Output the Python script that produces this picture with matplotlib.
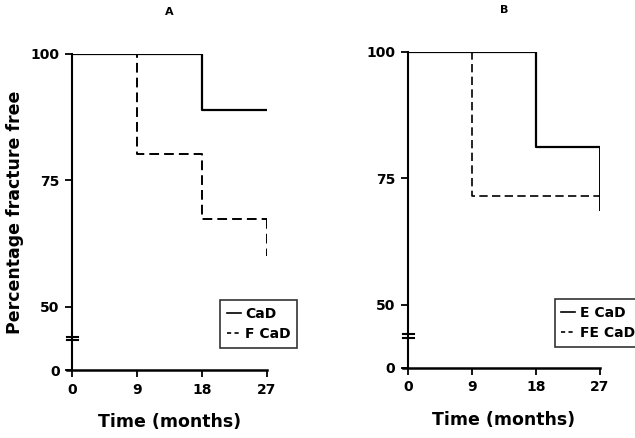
import numpy as np
import matplotlib
matplotlib.use('Agg')
from matplotlib import pyplot as plt
from matplotlib.lines import Line2D

plt.rcParams['font.family'] = ['DejaVu Sans']
plt.rcParams['font.weight'] = 'bold'

# 生存曲線のデータ（時間: 月, 骨折なし割合: %）
time_a = [0, 9, 18, 27]
cad = [100, 100, 88.9, 88.9]
f_cad = [100, 80.2, 67.4, 67.4]
f_cad_end = 60.0

time_b = [0, 9, 18, 27]
e_cad = [100, 100, 81.2, 81.2]
e_cad_end = 68.8
fe_cad = [100, 71.5, 71.5, 71.5]

xticks = [0, 9, 18, 27]
yticks = [0, 50, 75, 100]
panels = ['A', 'B']
labels_a = ['CaD', 'F CaD']
labels_b = ['E CaD', 'FE CaD']


# 0〜50 の間を縮めた縦軸（軸の途切れ）
def fwd(y):
    y = np.asarray(y, dtype=float)
    return np.where(y >= 50, y, 37.5 + y * 0.25)


def inv(t):
    t = np.asarray(t, dtype=float)
    return np.where(t >= 50, t, (t - 37.5) * 4)


fig = plt.figure(figsize=(6.35, 4.38), dpi=100)
ax_a = fig.add_axes([0.1134, 0.155, 0.307, 0.722])
ax_b = fig.add_axes([0.6425, 0.160, 0.302, 0.722])

dash = (0, (5, 2.6))
ax_a.step(time_a, cad, where='post', color='black', lw=1.6)
ax_a.step(time_a, f_cad, where='post', color='black', lw=1.4, linestyle=dash)
ax_a.plot([time_a[-1], time_a[-1]], [f_cad[-1], f_cad_end], color='black', lw=1.4, linestyle=dash)

ax_b.step(time_b, e_cad, where='post', color='black', lw=1.6)
ax_b.plot([time_b[-1], time_b[-1]], [e_cad[-1], e_cad_end], color='black', lw=1.4)
ax_b.step(time_b, fe_cad, where='post', color='black', lw=1.2, linestyle=dash)

for ax, name in zip([ax_a, ax_b], panels):
    ax.set_yscale('function', functions=(fwd, inv))
    ax.set_xlim(0, 27)
    ax.set_ylim(0, 100)
    ax.set_xticks(xticks)
    ax.set_yticks(yticks)
    ax.tick_params(direction='out', length=5, width=1.3, labelsize=10, pad=4)
    for lab in ax.get_xticklabels() + ax.get_yticklabels():
        lab.set_fontweight('bold')
    ax.spines['top'].set_visible(False)
    ax.spines['right'].set_visible(False)
    ax.spines['left'].set_linewidth(1.5)
    ax.spines['bottom'].set_linewidth(1.8)
    ax.spines['bottom'].set_bounds(-0.7, 27)
    ax.spines['left'].set_position(('data', 0))
    ax.set_xlabel('Time (months)', fontsize=12.5, fontweight='bold', labelpad=12)
    ax.set_title(name, fontsize=8, fontweight='bold', pad=28)
    # 軸の途切れ記号
    for yb in [23.5, 26.5]:
        ax.plot([-0.65, 0.85], [yb, yb], color='black', lw=1.5, clip_on=False)
    ax.minorticks_off()

ax_a.set_ylabel('Percentage fracture free', fontsize=12.5, fontweight='bold', labelpad=5)

handles_a = [Line2D([], [], color='black', lw=1.2),
             Line2D([], [], color='black', lw=1.2, linestyle=(0, (2.5, 2)))]
leg_a = ax_a.legend(handles_a, labels_a, loc='upper left', bbox_to_anchor=(0.723, 0.245),
                    frameon=True, fancybox=False, edgecolor='black', handlelength=1.0,
                    handletextpad=0.3, borderpad=0.5, labelspacing=0.45,
                    prop={'size': 10, 'weight': 'bold'})
leg_a.get_frame().set_linewidth(1.2)
leg_a.set_clip_on(False)

leg_b = ax_b.legend(handles_a, labels_b, loc='upper left', bbox_to_anchor=(0.728, 0.24),
                    frameon=True, fancybox=False, edgecolor='black', handlelength=1.0,
                    handletextpad=0.3, borderpad=0.5, labelspacing=0.45,
                    prop={'size': 10, 'weight': 'bold'})
leg_b.get_frame().set_linewidth(1.2)

fig.savefig('out.png', dpi=100)
